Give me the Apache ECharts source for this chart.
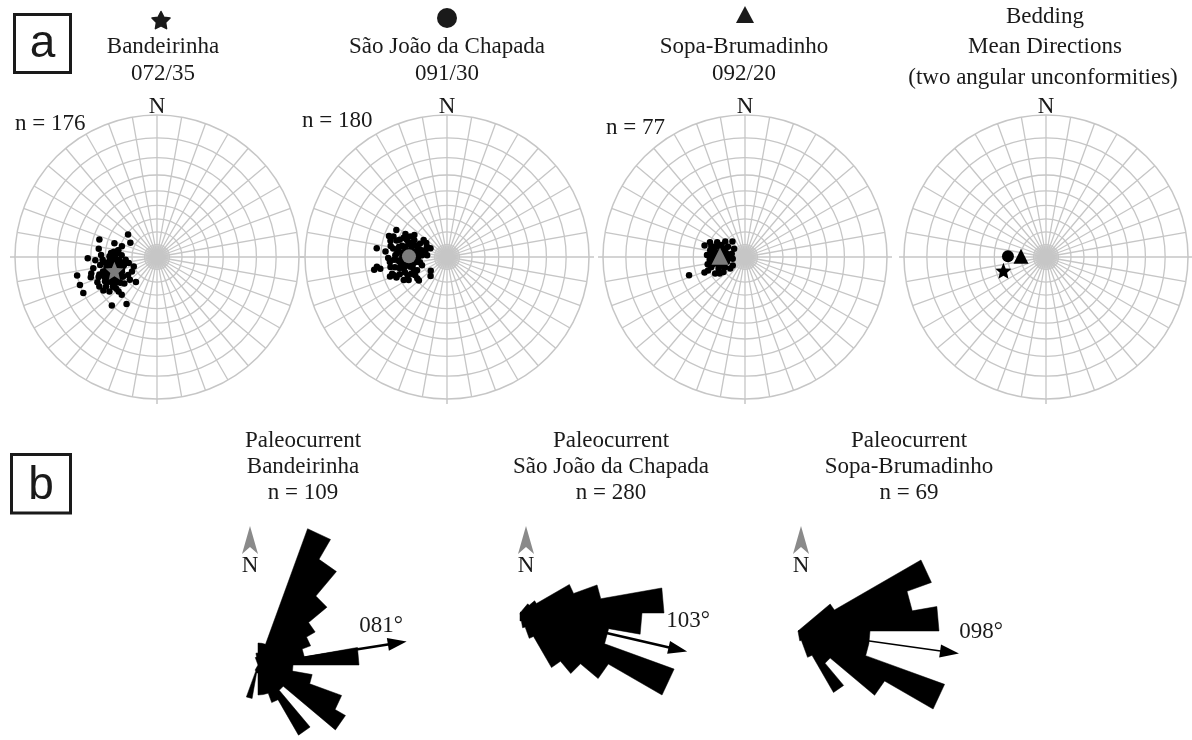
<!DOCTYPE html>
<html>
<head>
<meta charset="utf-8">
<script src="https://cdn.jsdelivr.net/npm/echarts@6/dist/echarts.min.js"></script>
<style>
html, body { margin: 0; padding: 0; background: #fff; }
#chart { width: 1192px; height: 740px; }
</style>
</head>
<body>
<div id="chart"></div>
<script>
// Bedding attitudes [dip direction, dip] measured in each unit
const bandeirinhaBedding = [
  [107,46],[128,29],[118,24],[98,45],[108,35],[107,29],[89,52],[77,60],[70,60],[64,60],
  [73,52],[67,49],[43,50],[33,43],[40,26],[68,20],[48,40],[43,40],[78,37],[93,33],
  [86,32],[83,39],[82,44],[75,43],[67,33],[60,31],[58,27],[55,35],[56,41],[60,45],
  [63,49],[71,47],[80,49],[76,51],[78,23],[85,25],[100,31],[97,34],[60,23],[72,29],
  [66,41],[60,36],[61,40],[65,44],[70,36],[74,41],[79,34],[68,31],[86,37],[87,42],
  [51,33],[52,40],[50,28],[87,47],[92,43],[93,28],[54,45],[58,48],
  [72,35],[74,33],[70,38],[76,36],[68,34],[73,31],[78,40],[66,37],[71,42],[80,32],
  [64,39],[75,38],[99,31],[95,32],[90,33],[84,33],
  [70,34],[74,37],[77,35],[69,40],[72,44],[81,36],[83,35],[65,35],[62,33],[67,30],
  [75,30],[79,38],[84,41],[88,35],[73,46],[69,43],[63,42],[58,38],[81,28],[76,27],
  [91,37],[95,36],[86,30],[71,32]
];
const saoJoaoBedding = [
  [118,44],[110,47],[97,53],[89,45],[80,55],[82,53],[80,51],[71,46],[71,43],[62,38],
  [50,29],[54,29],[50,17],[41,20],[118,15],[124,20],[124,31],[119,37],[101,44],[95,47],
  [110,39],[113,34],[117,29],[116,24],[102,38],[103,34],[106,29],[106,24],[107,18],[94,39],
  [94,34],[96,25],[94,20],[87,41],[84,37],[84,27],[79,22],[79,41],[75,35],[75,30],
  [66,26],[72,21],[70,39],[65,34],[65,31],[68,42],[106,45],[111,44],[119,33],[126,23],
  [117,18],[80,44],[59,35],[60,29],[73,44],[86,34],[90,23],[95,16],
  [91,30],[88,31],[93,28],[97,31],[86,29],[99,27],[92,33],[84,32],[100,33],[89,27],
  [95,35],[82,30],
  [98,38],[104,36],[108,32],[112,30],[100,29],[96,27],[90,35],[86,38],[82,35],[78,33],
  [76,28],[81,25],[88,24],[93,22],[101,24],[105,21],[110,26],[114,37],[108,41],[99,42],
  [92,40],[85,44],[77,38],[70,35],[68,28]
];
const sopaBedding = [
  [72,45],[69,34],[106,33],[113,30],[128,20],[141,16],[127,11],[82,10],[52,15],[55,21],
  [61,27],[79,30],[101,28],[110,24],[117,21],[121,16],[93,25],[96,14],[85,28],[75,15],
  [73,28],[66,23],[63,18],[104,11],[101,20],[81,24],[78,19],[70,31],[57,24],[118,25],
  [93,30],[55,12],[90,17],
  [92,20],[88,22],[96,18],[85,19],[99,23],[90,26],[80,21],[105,17],[87,16],[95,22],
  [98,26],[103,26],[110,20],[84,26],[77,26],[72,22],[68,19],[94,12],[100,15],[113,17],
  [86,13],[108,28],[114,24],[80,16]
];
const unitNames = ['Bandeirinha', 'São João da Chapada', 'Sopa-Brumadinho'];
const meanBedding = [[72,35],[91,30],[92,20]];
const beddingCounts = [176, 180, 77];
const netDipCircles = [10, 20, 30, 40, 50, 60, 70, 80];

// Paleocurrent rose diagrams: 10° sectors (start azimuth), petal length
const roseSectors = [0,10,20,30,40,50,60,70,80,90,100,110,
  120,130,140,150,160,170,180,190,200,210,220,230,
  240,250,260,270,280,290,300,310,320,330,340,350];
const sectorWidth = 10;
const bandeirinhaRose = [2.2,2.2,14.5,12.2,9.0,6.6,5.6,4.7,10.1,3.5,5.5,8.9,
  10.1,3.3,8.1,4.0,3.0,3.0,0.8,3.4,0.6,0,0,0,
  0,0,0,0,0,0,0,0,0,0,0.8,1.2];
const saoJoaoRose = [0,0,0,0,1.2,1.9,5.7,8.2,14.4,12.2,9.0,16.4,
  10.2,7.9,6.3,2.7,1.5,0.8,0,0,0,0,0,0,
  0,0,0,0,0,0,0,0,0,0,0,0];
const sopaRose = [0,0,0,0,0,4.2,14.2,11.6,14.1,7.2,7.2,15.6,
  10.0,4.2,7.1,2.8,1.0,0,0,0,0,0,0,0,
  0,0,0,0,0,0,0,0,0,0,0,0];
const meanCurrent = [81, 103, 98];
const currentCounts = [109, 280, 69];

// ---- layout ----
const R = 142;
const netCenters = [[157,257],[447,257],[745,257],[1046,257]];
const roseLayout = [
  { c: [258,665], tip: 14.1, w: 2.6, label: [381,626], north: 250 },
  { c: [520,613], tip: 16.2, w: 2.6, label: [688,621], north: 526 },
  { c: [798,631], tip: 15.3, w: 1.6, label: [981,632], north: 801 }
];
const GRID = '#c6c6c6';
const MEAN_GREY = '#7c7c7c';
const SERIF = "23px 'Liberation Serif', 'Times New Roman', serif";
const STAR = 'path://M12,0.8 L15.2,8.3 L23.4,8.9 L17.2,14.3 L19.1,22.4 L12,18.1 L4.9,22.4 L6.8,14.3 L0.6,8.9 L8.8,8.3 Z';
const meanSymbols = [STAR, 'circle', 'triangle'];
const meanSizes = [18, 14, 17];

const toPole = ([dipDir, dip]) => [Math.tan(dip * Math.PI / 360), (dipDir + 180) % 360];
const ringRadii = netDipCircles.map(d => Math.tan(d * Math.PI / 360));
const pad3 = v => String(v).padStart(3, '0');

const polar = [], angleAxis = [], radiusAxis = [], series = [];

// stereographic polar nets
netCenters.forEach((c, i) => {
  polar.push({ center: c, radius: R });
  angleAxis.push({
    polarIndex: i, type: 'value', min: 0, max: 360, interval: 10,
    startAngle: 90, clockwise: true,
    axisLine: { show: true, lineStyle: { color: GRID, width: 1.5 } },
    axisTick: { show: false }, axisLabel: { show: false },
    splitLine: { show: true, lineStyle: { color: GRID, width: 1.3 } }
  });
  radiusAxis.push({
    polarIndex: i, type: 'value', min: 0, max: 1,
    axisLine: { show: false }, axisLabel: { show: false },
    axisTick: { show: false, customValues: ringRadii },
    splitLine: { show: true, lineStyle: { color: GRID, width: 1.3 } }
  });
  series.push({
    type: 'scatter', coordinateSystem: 'polar', polarIndex: i,
    data: [[0, 0]], symbolSize: 23, itemStyle: { color: GRID }, silent: true, z: 1
  });
});

[bandeirinhaBedding, saoJoaoBedding, sopaBedding].forEach((set, i) => {
  series.push({
    type: 'scatter', coordinateSystem: 'polar', polarIndex: i,
    data: set.map(toPole), symbol: 'circle', symbolSize: 6.5,
    itemStyle: { color: '#000', opacity: 1 }, silent: true, z: 2
  });
  series.push({
    type: 'scatter', coordinateSystem: 'polar', polarIndex: i,
    data: [toPole(meanBedding[i])], symbol: meanSymbols[i], symbolSize: meanSizes[i],
    itemStyle: { color: MEAN_GREY, opacity: 1 }, silent: true, z: 3
  });
  // summary net with the three mean attitudes
  series.push({
    type: 'scatter', coordinateSystem: 'polar', polarIndex: 3,
    data: [toPole(meanBedding[i])], symbol: meanSymbols[i], symbolSize: meanSizes[i] - 2,
    itemStyle: { color: '#000', opacity: 1 }, silent: true, z: 3
  });
});

// rose diagrams: the petals are traced as one outline so neighbouring sectors join cleanly
const roseData = [bandeirinhaRose, saoJoaoRose, sopaRose];
roseLayout.forEach((r, i) => {
  const petals = roseData[i];
  polar.push({ center: r.c, radius: 200 });
  angleAxis.push({
    polarIndex: 4 + i, type: 'value', min: 0, max: 360,
    startAngle: 90, clockwise: true, show: false
  });
  radiusAxis.push({ polarIndex: 4 + i, type: 'value', min: 0, max: 20, show: false });
  series.push({
    type: 'custom', coordinateSystem: 'polar', polarIndex: 4 + i,
    data: [[0, 0]], silent: true, z: 2,
    renderItem: (params, api) => {
      const points = [];
      roseSectors.forEach((a, k) => {
        points.push(api.coord([petals[k], a]));
        points.push(api.coord([petals[k], a + sectorWidth]));
      });
      return { type: 'polygon', shape: { points }, style: { fill: '#000', stroke: '#000', lineWidth: 0.5 } };
    }
  });
  const dir = meanCurrent[i];
  series.push({
    type: 'line', coordinateSystem: 'polar', polarIndex: 4 + i,
    data: [
      { value: [0, dir], symbol: 'none' },
      { value: [r.tip, dir], symbol: 'triangle', symbolSize: [13, 19], symbolRotate: -dir }
    ],
    showSymbol: true, clip: false, silent: true, z: 4,
    lineStyle: { color: '#000', width: r.w }, itemStyle: { color: '#000' }
  });
});

// ---- annotations ----
const graphic = [];
const txt = (x, y, text, align, font) => graphic.push({
  type: 'text', x, y, silent: true,
  style: { text, font: font || SERIF, fill: '#1a1a1a',
    align: align || 'center', verticalAlign: 'middle',
    textAlign: align || 'center', textVerticalAlign: 'middle' }
});

// five-pointed star outline for the header marker
const starPoints = (cx, cy, ro, ri) => {
  const pts = [];
  for (let k = 0; k < 10; k++) {
    const a = -Math.PI / 2 + k * Math.PI / 5;
    const rr = k % 2 ? ri : ro;
    pts.push([cx + rr * Math.cos(a), cy + rr * Math.sin(a)]);
  }
  return pts;
};

// panel letters
[[14.5, 14.5, 56, 58, 'a', 44], [11.5, 454.5, 59, 58.5, 'b', 486]].forEach(([x, y, w, h, t, ty]) => {
  graphic.push({ type: 'rect', silent: true, shape: { x, y, width: w, height: h },
    style: { fill: 'none', stroke: '#1a1a1a', lineWidth: 3 } });
  txt(x + w / 2, ty, t, 'center', "46px 'Liberation Sans', Arial, sans-serif");
});

// net headers
const headerX = [163, 447, 744];
headerX.forEach((x, i) => {
  txt(x, 47, unitNames[i]);
  txt(x, 74, pad3(meanBedding[i][0]) + '/' + meanBedding[i][1]);
});
graphic.push({ type: 'polygon', silent: true,
  shape: { points: starPoints(161, 21, 9.5, 4.8) }, style: { fill: '#1a1a1a', stroke: '#1a1a1a', lineWidth: 1.5, lineJoin: 'round' } });
graphic.push({ type: 'circle', silent: true, shape: { cx: 447, cy: 18, r: 10 }, style: { fill: '#1a1a1a' } });
graphic.push({ type: 'polygon', silent: true,
  shape: { points: [[745, 6], [754, 23], [736, 23]] },
  style: { fill: '#1a1a1a' } });
txt(1045, 17, 'Bedding');
txt(1045, 47, 'Mean Directions');
txt(1043, 78, '(two angular unconformities)');

// north labels, counts and outer ticks on the nets
netCenters.forEach(([cx, cy]) => {
  txt(cx, cy - R - 8, 'N');
  [[cx - R - 5, cy, cx - R, cy], [cx + R, cy, cx + R + 5, cy], [cx, cy + R, cx, cy + R + 5]].forEach(([x1, y1, x2, y2]) => {
    graphic.push({ type: 'line', silent: true, shape: { x1, y1, x2, y2 }, style: { stroke: GRID, lineWidth: 1.5 } });
  });
});
[[15, 124], [302, 121], [606, 128]].forEach(([x, y], i) => txt(x, y, 'n = ' + beddingCounts[i], 'left'));

// rose headers, north arrows, mean direction labels
const roseTitleX = [303, 611, 909];
roseLayout.forEach((r, i) => {
  const x = roseTitleX[i];
  txt(x, 441, 'Paleocurrent');
  txt(x, 467, unitNames[i]);
  txt(x, 493, 'n = ' + currentCounts[i]);
  const nx = r.north;
  graphic.push({ type: 'polygon', silent: true,
    shape: { points: [[nx, 526], [nx + 8, 554], [nx, 547], [nx - 8, 554]] },
    style: { fill: '#8a8a8a' } });
  txt(nx, 566, 'N');
  txt(r.label[0], r.label[1], pad3(meanCurrent[i]) + '°');
});

const chart = echarts.init(document.getElementById('chart'));
chart.setOption({
  animation: false,
  backgroundColor: '#fff',
  polar, angleAxis, radiusAxis, series, graphic
});
</script>
</body>
</html>
